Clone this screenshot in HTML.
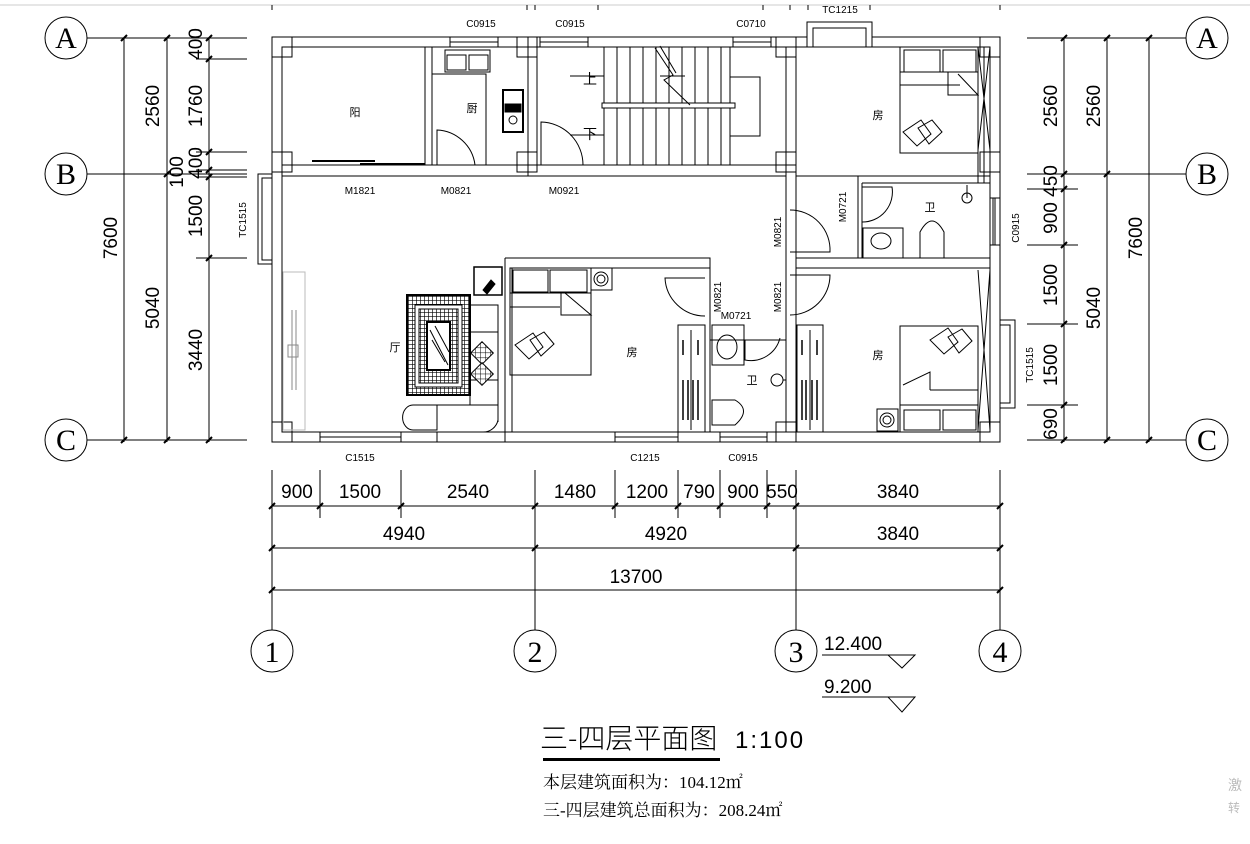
<!DOCTYPE html>
<html><head><meta charset="utf-8"><style>
html,body{margin:0;padding:0;background:#fff;}
svg{display:block;}
text{fill:#000;}
.d{font-family:"Liberation Sans Narrow","Liberation Sans",sans-serif;font-size:19px;}
.s{font-family:"Liberation Sans",sans-serif;font-size:10px;}
.cj{font-family:"Noto Sans CJK SC",sans-serif;font-size:11px;}
.ax{font-family:"Liberation Serif",serif;font-size:30px;}
.ser{font-family:"Liberation Serif","Noto Serif CJK SC",serif;font-size:17px;}
</style></head><body>
<svg width="1250" height="844" viewBox="0 0 1250 844" xmlns="http://www.w3.org/2000/svg">
<defs>
<pattern id="hat" width="4" height="4" patternUnits="userSpaceOnUse"><rect width="4" height="4" fill="#fff"/><path d="M0 0H4M0 0V4" stroke="#000" stroke-width="1.3"/></pattern>
<pattern id="dia" width="5" height="5" patternUnits="userSpaceOnUse" patternTransform="rotate(45)"><rect width="5" height="5" fill="#fff"/><path d="M0 0H5M0 0V5" stroke="#000" stroke-width="1"/></pattern>
</defs>
<g stroke="#000" fill="none" stroke-width="1">
<line x1="0" y1="5" x2="1250" y2="5" stroke="#ccc"/>
<path d="M272 5v5M527 5v5M535 5v5M598 5v5M763 5v5M790 5v5M808 5v5M870 5v5M1000 5v5"/>

<path d="M87 38H247M87 174H247M87 440H247" />
<path d="M124 38V442M167 38V442M209 38V442"/>
<path d="M196 59H247M196 152H247M196 170H247M196 177H247M196 258H247"/>
<g stroke-width="2">
<path d="M121 41l6-6M121 443l6-6M164 41l6-6M164 177l6-6M164 443l6-6M206 41l6-6M206 62l6-6M206 155l6-6M206 173l6-6M206 180l6-6M206 261l6-6M206 443l6-6"/>
</g>
<path d="M1027 38H1186M1027 174H1186M1027 440H1186"/>
<path d="M1064 38V442M1107 38V442M1149 38V442"/>
<path d="M1027 189H1078M1027 245H1078M1027 324H1078M1027 405H1078"/>
<g stroke-width="2"><path d="M1061 41l6-6M1061 177l6-6M1061 192l6-6M1061 248l6-6M1061 327l6-6M1061 408l6-6M1061 443l6-6M1104 41l6-6M1104 177l6-6M1104 443l6-6M1146 41l6-6M1146 443l6-6"/></g>

<path d="M272 470V630M535 470V630M796 470V630M1000 470V630"/>
<path d="M320 470V518M401 470V518M615 470V518M678 470V518M720 470V518M767 470V518"/>
<path d="M272 506H1000M272 548H1000M272 590H1000"/>
<g stroke-width="2"><path d="M269 509l6-6M317 509l6-6M398 509l6-6M532 509l6-6M612 509l6-6M675 509l6-6M717 509l6-6M764 509l6-6M793 509l6-6M997 509l6-6M269 551l6-6M532 551l6-6M793 551l6-6M997 551l6-6M269 593l6-6M997 593l6-6"/></g>

<circle cx="66" cy="38" r="21"/><circle cx="66" cy="174" r="21"/><circle cx="66" cy="440" r="21"/>
<circle cx="1207" cy="38" r="21"/><circle cx="1207" cy="174" r="21"/><circle cx="1207" cy="440" r="21"/>
<circle cx="272" cy="651" r="21"/><circle cx="535" cy="651" r="21"/><circle cx="796" cy="651" r="21"/><circle cx="1000" cy="651" r="21"/>

<path d="M822 655H915L902 668L888 655M822 697H915L902 712L888 697"/>
<rect x="543" y="758" width="177" height="3" fill="#000" stroke="none"/>

<g fill="#fff">
<rect x="272" y="37" width="728" height="405"/>
<rect x="282" y="47" width="708" height="385"/>
</g>
<path d="M282 165H796M282 176H786"/>
<path d="M425 47V165M432 47V165"/>
<path d="M528 37V176M537 37V165"/>
<path d="M786 47V432M796 37V442"/>
<path d="M796 176H858V258M862 183V258M858 176H990M862 183H990M796 258H990M796 268H990"/>
<path d="M978 47V183M984 47V183"/>
<path d="M505 258H710V268M505 258V442M512 268V432M512 268H710"/>
<path d="M710 268V340M710 340H786M710 340V432M705 325V432"/>
<path d="M437 432V442M505 432V442"/>
<g>
<rect x="272" y="37" width="20" height="20"/><rect x="272" y="152" width="20" height="20"/><rect x="272" y="422" width="20" height="20"/>
<rect x="517" y="37" width="20" height="20"/><rect x="517" y="152" width="20" height="20"/>
<rect x="776" y="37" width="20" height="20"/><rect x="776" y="152" width="20" height="20"/>
<rect x="980" y="37" width="20" height="20"/><rect x="980" y="422" width="20" height="20"/>
<rect x="776" y="422" width="20" height="20"/><rect x="980" y="152" width="20" height="20"/>
</g>
<g fill="#fff">
<rect x="450" y="37" width="48" height="10"/><rect x="540" y="37" width="48" height="10"/><rect x="733" y="37" width="38" height="10"/>
<rect x="807" y="22" width="65" height="25"/><rect x="813" y="28" width="53" height="19"/>
<rect x="320" y="432" width="81" height="10"/><rect x="615" y="432" width="63" height="10"/><rect x="720" y="432" width="47" height="10"/>
<rect x="258" y="174" width="14" height="90"/><rect x="262" y="178" width="10" height="82"/>
<rect x="990" y="198" width="10" height="47"/>
<rect x="1000" y="320" width="15" height="88"/><rect x="1000" y="325" width="10" height="78"/>
</g>
<path d="M450 42H498M540 42H588M733 42H771M320 437H401M615 437H678M720 437H767M995 198V245M993 198V245"/>
<path d="M978 47L990 150M990 47L978 150M978 270L990 430M990 270L978 430"/>
<rect x="283" y="272" width="22" height="158" stroke="#bbb"/>
<path d="M292 310V390M296 310V390" stroke="#888"/>
<rect x="288" y="345" width="10" height="12" stroke="#888"/>
<path d="M312 161H375M360 164H425" stroke-width="2"/>
<path d="M437 165V130A40 40 0 0 1 475 165"/>
<path d="M541 165V122A43 43 0 0 1 583 165"/>
<path d="M790 210A40 40 0 0 1 830 252H790"/>
<path d="M790 275H830A40 40 0 0 1 790 315"/>
<path d="M705 278H665A40 40 0 0 0 705 316"/>
<path d="M745 340V360A30 30 0 0 0 780 338"/>
<path d="M862 187H892A30 30 0 0 1 862 222"/>
<path d="M604 47V165M617 47V165M630 47V165M643 47V165M656 47V165M669 47V165M682 47V165M695 47V165M708 47V165M721 47V165M730 47V165"/>
<rect x="602" y="103" width="133" height="5" fill="#fff"/>
<path d="M730 77H760V136H730M604 76H570M604 135H570"/>
<path d="M655 48L673 75L664 80L690 105M660 46L676 73M660 76h25"/>
<rect x="445" y="50" width="45" height="22"/><rect x="447" y="55" width="19" height="15"/><rect x="469" y="55" width="19" height="15"/>
<path d="M432 74H486V165"/>
<rect x="503" y="90" width="20" height="42" fill="#fff" stroke-width="2"/>
<circle cx="513" cy="120" r="4"/><rect x="505" y="104" width="16" height="8" fill="#000"/>
<rect x="407" y="295" width="63" height="100" fill="url(#hat)" stroke-width="2"/>
<rect x="415" y="305" width="47" height="82" fill="#fff"/>
<rect x="419" y="309" width="39" height="74" fill="url(#hat)"/>
<rect x="427" y="322" width="23" height="48" fill="#fff" stroke-width="2"/>
<path d="M430 330L448 365M432 340L445 362M435 326L449 352"/>
<rect x="470" y="305" width="28" height="100"/>
<path d="M470 332H498M470 380H498M498 305V422"/>
<rect x="474" y="345" width="16" height="16" transform="rotate(45 482 353)" fill="url(#dia)"/>
<rect x="474" y="366" width="16" height="16" transform="rotate(45 482 374)" fill="url(#dia)"/>
<path d="M437 405H413A10 12 0 0 0 413 430H437V405M437 405H498V420A15 15 0 0 1 483 432H437"/>
<rect x="474" y="267" width="28" height="28" stroke-width="1.5"/>
<path d="M483 290l8-10l4 4l-8 10z" fill="#000"/>
<rect x="510" y="268" width="81" height="107"/><path d="M510 293H591M510 307H560"/>
<rect x="513" y="270" width="35" height="22"/><rect x="550" y="270" width="37" height="22"/>
<path d="M561 293V315H591L565 293"/>
<path d="M515 345l18-12l10 14l-14 12zM530 340l14-8l10 12l-13 12z"/>
<rect x="591" y="268" width="21" height="22"/><circle cx="601" cy="279" r="7"/><circle cx="601" cy="279" r="4"/>
<rect x="678" y="325" width="27" height="107"/><path d="M691 330V430"/>
<path d="M683 340v15M698 340v15M683 380v40M698 380v40M688 380v40M693 380v40" stroke-width="1.5"/>
<rect x="797" y="325" width="26" height="107"/><path d="M810 330V430"/>
<path d="M802 340v15M817 340v15M802 380v40M817 380v40M806 380v40M812 380v40" stroke-width="1.5"/>
<rect x="712" y="325" width="32" height="40"/><ellipse cx="727" cy="347" rx="10" ry="12"/>
<circle cx="777" cy="380" r="6"/><path d="M783 380H786"/>
<path d="M712 400H735Q752 410 735 425H712Z"/>
<rect x="863" y="228" width="40" height="30"/><ellipse cx="881" cy="241" rx="10" ry="8"/>
<path d="M920 258V232Q932 210 944 232V258Z"/>
<circle cx="967" cy="198" r="5"/><path d="M967 185V198"/>
<rect x="900" y="47" width="78" height="106"/><path d="M900 72H978M900 85H960"/>
<rect x="904" y="50" width="36" height="22"/><rect x="943" y="50" width="33" height="22"/>
<path d="M948 72V95H978L958 74"/>
<path d="M903 132l18-12l10 14l-14 12zM918 128l14-8l10 12l-13 12z"/>
<rect x="900" y="326" width="78" height="106"/><path d="M900 405H978M930 390H978"/>
<rect x="904" y="410" width="36" height="20"/><rect x="943" y="410" width="33" height="20"/>
<path d="M930 390V372L903 385"/>
<path d="M930 340l18-12l10 14l-14 12zM948 337l14-8l10 12l-13 12z"/>
<rect x="877" y="409" width="21" height="22"/><circle cx="887" cy="420" r="7"/><circle cx="887" cy="420" r="4"/>
</g>

<g class="d">
<text x="195" y="44" transform="rotate(-90 195 44)" text-anchor="middle" dy="7">400</text>
<text x="195" y="106" transform="rotate(-90 195 106)" text-anchor="middle" dy="7">1760</text>
<text x="195" y="163" transform="rotate(-90 195 163)" text-anchor="middle" dy="7">400</text>
<text x="176" y="172" transform="rotate(-90 176 172)" text-anchor="middle" dy="7">100</text>
<text x="195" y="216" transform="rotate(-90 195 216)" text-anchor="middle" dy="7">1500</text>
<text x="195" y="350" transform="rotate(-90 195 350)" text-anchor="middle" dy="7">3440</text>
<text x="152" y="106" transform="rotate(-90 152 106)" text-anchor="middle" dy="7">2560</text>
<text x="152" y="308" transform="rotate(-90 152 308)" text-anchor="middle" dy="7">5040</text>
<text x="110" y="238" transform="rotate(-90 110 238)" text-anchor="middle" dy="7">7600</text>
<text x="1050" y="106" transform="rotate(-90 1050 106)" text-anchor="middle" dy="7">2560</text>
<text x="1093" y="106" transform="rotate(-90 1093 106)" text-anchor="middle" dy="7">2560</text>
<text x="1050" y="181" transform="rotate(-90 1050 181)" text-anchor="middle" dy="7">450</text>
<text x="1050" y="218" transform="rotate(-90 1050 218)" text-anchor="middle" dy="7">900</text>
<text x="1050" y="285" transform="rotate(-90 1050 285)" text-anchor="middle" dy="7">1500</text>
<text x="1050" y="365" transform="rotate(-90 1050 365)" text-anchor="middle" dy="7">1500</text>
<text x="1050" y="424" transform="rotate(-90 1050 424)" text-anchor="middle" dy="7">690</text>
<text x="1093" y="308" transform="rotate(-90 1093 308)" text-anchor="middle" dy="7">5040</text>
<text x="1135" y="238" transform="rotate(-90 1135 238)" text-anchor="middle" dy="7">7600</text>
<g text-anchor="middle">
<text x="297" y="498">900</text><text x="360" y="498">1500</text><text x="468" y="498">2540</text>
<text x="575" y="498">1480</text><text x="647" y="498">1200</text><text x="699" y="498">790</text><text x="743" y="498">900</text><text x="782" y="498">550</text><text x="898" y="498">3840</text>
<text x="404" y="540">4940</text><text x="666" y="540">4920</text><text x="898" y="540">3840</text>
<text x="636" y="583">13700</text>
</g>
<text x="824" y="650">12.400</text>
<text x="824" y="693">9.200</text>
</g>
<g class="ax" text-anchor="middle">
<text x="66" y="48">A</text><text x="66" y="184">B</text><text x="66" y="450">C</text>
<text x="1207" y="48">A</text><text x="1207" y="184">B</text><text x="1207" y="450">C</text>
<text x="272" y="662">1</text><text x="535" y="662">2</text><text x="796" y="662">3</text><text x="1000" y="662">4</text>
</g>
<g class="s" text-anchor="middle">
<text x="481" y="27">C0915</text><text x="570" y="27">C0915</text><text x="751" y="27">C0710</text><text x="840" y="13">TC1215</text>
<text x="360" y="194">M1821</text><text x="456" y="194">M0821</text><text x="564" y="194">M0921</text>
<text x="360" y="461">C1515</text><text x="645" y="461">C1215</text><text x="743" y="461">C0915</text>
<text x="736" y="319">M0721</text>
<text x="246" y="220" transform="rotate(-90 246 220)">TC1515</text>
<text x="781" y="232" transform="rotate(-90 781 232)">M0821</text>
<text x="846" y="207" transform="rotate(-90 846 207)">M0721</text>
<text x="721" y="297" transform="rotate(-90 721 297)">M0821</text>
<text x="781" y="297" transform="rotate(-90 781 297)">M0821</text>
<text x="1019" y="228" transform="rotate(-90 1019 228)">C0915</text>
<text x="1033" y="365" transform="rotate(-90 1033 365)">TC1515</text>
</g>
<g class="cj" text-anchor="middle">
<text x="355" y="116">阳</text><text x="472" y="112">厨</text><text x="878" y="119">房</text><text x="930" y="211">卫</text>
<text x="632" y="356">房</text><text x="395" y="351">厅</text><text x="752" y="384">卫</text><text x="878" y="359">房</text>
<text x="590" y="84" style="font-size:14px">上</text><text x="590" y="139" style="font-size:14px">下</text>
</g>
<text x="540" y="748" style="font-family:'Noto Sans CJK SC',sans-serif;font-size:28px;font-weight:200">三-四层平面图</text>
<text x="735" y="748" style="font-family:'Liberation Sans',sans-serif;font-size:24px;letter-spacing:2px;font-weight:normal">1:100</text>
<text x="543" y="788" class="ser">本层建筑面积为：104.12㎡</text>
<text x="543" y="816" class="ser">三-四层建筑总面积为：208.24㎡</text>
<text x="1228" y="790" style="fill:#bbb;font-size:14px;font-family:'Noto Sans CJK SC',sans-serif">激</text>
<text x="1228" y="812" style="fill:#bbb;font-size:12px;font-family:'Noto Sans CJK SC',sans-serif">转</text>
</svg>
</body></html>
